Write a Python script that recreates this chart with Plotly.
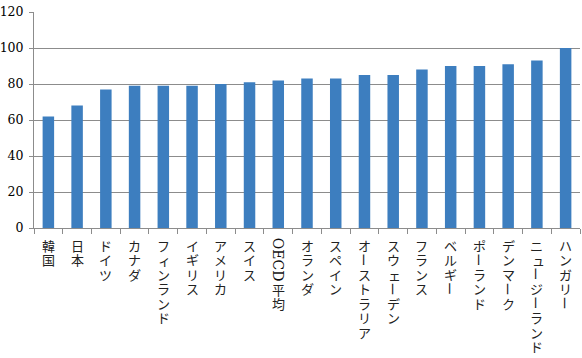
import plotly.graph_objects as go

categories = ["韓国", "日本", "ドイツ", "カナダ", "フィンランド", "イギリス", "アメリカ", "スイス",
              "OECD平均", "オランダ", "スペイン", "オーストラリア", "スウェーデン", "フランス",
              "ベルギー", "ポーランド", "デンマーク", "ニュージーランド", "ハンガリー"]
values = [62, 68, 77, 79, 79, 79, 80, 81, 82, 83, 83, 85, 85, 88, 90, 90, 91, 93, 100]
y_ticks = [0, 20, 40, 60, 80, 100, 120]

SERIF = "DejaVu Serif"
CJK = "Noto Sans CJK JP"
SMALL_KANA = set("ァィゥェォッャュョ")

fig = go.Figure(go.Bar(x=categories, y=values, marker_color="#3d7ebf",
                       marker_line_width=0))

grid = "#8c8c8c"
fig.update_layout(
    width=582, height=358,
    margin=dict(l=34, r=2, t=12, b=130),
    paper_bgcolor="white", plot_bgcolor="white",
    bargap=0.6, showlegend=False,
    font=dict(family=SERIF, size=13, color="#000000"),
)
fig.update_yaxes(range=[0, 120], tickvals=y_ticks, showgrid=True, gridcolor=grid,
                 gridwidth=1, showline=True, linecolor=grid, linewidth=1,
                 ticks="outside", ticklen=4, tickcolor=grid,
                 zeroline=False, ticklabelstandoff=3, automargin=False,
                 tickfont=dict(family=SERIF, size=12.5, color="#000"))
fig.update_xaxes(tickvals=categories, showticklabels=False, automargin=False,
                 showline=True, linecolor=grid, linewidth=1,
                 ticks="outside", tickson="boundaries", ticklen=5, tickcolor=grid)

# vertical (tategaki) category labels
PITCH = 14.5
START = 10
for cat in categories:
    pos = START
    i = 0
    while i < len(cat):
        ch = cat[i]
        if ch.isascii():
            run = ""
            while i < len(cat) and cat[i].isascii():
                run += cat[i]
                i += 1
            length = 11 * len(run)
            fig.add_annotation(x=cat, y=0, yref="y", yshift=-(pos + length / 2),
                               text=run, textangle=90, showarrow=False,
                               xanchor="center", yanchor="middle", borderpad=0,
                               font=dict(family=SERIF, size=14, color="#111"))
            pos += length
            continue
        xs, angle = 0, 0
        if ch == "ー":
            angle = 90
        elif ch in SMALL_KANA:
            xs = 1.5
        fig.add_annotation(x=cat, y=0, yref="y", yshift=-(pos + PITCH / 2),
                           xshift=xs, text=ch, textangle=angle, showarrow=False,
                           xanchor="center", yanchor="middle", borderpad=0,
                           font=dict(family=CJK, size=13, color="#222"))
        pos += PITCH
        i += 1

fig.write_html("out.html")
